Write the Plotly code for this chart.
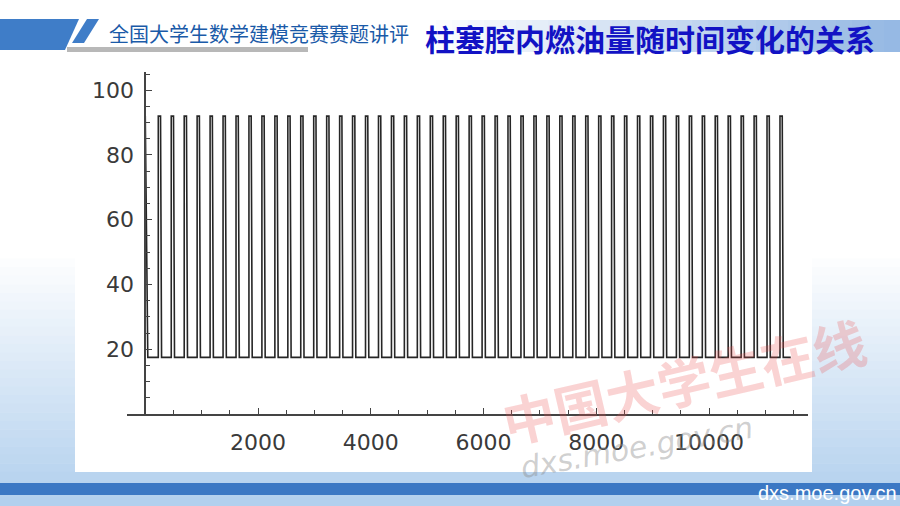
import plotly.graph_objects as go

# ---------------- data ----------------
rise_times = [231, 461, 691, 920, 1150, 1380, 1610, 1839, 2069, 2299,
              2529, 2758, 2988, 3218, 3448, 3677, 3907, 4137, 4367, 4596,
              4826, 5056, 5286, 5515, 5745, 5975, 6205, 6434, 6664, 6894,
              7124, 7353, 7583, 7813, 8043, 8272, 8502, 8732, 8962, 9191,
              9421, 9651, 9881, 10110, 10340, 10570, 10800, 11029, 11259]
peak_level = 92.0
base_level = 17.5
hold_top = 40       # time the level stays at the top before falling
fall_end = 58       # time after the rise at which the level is back at the base
start_points_t = [0, 30, 45]
start_points_v = [92.0, 30.0, 17.5]
end_time = 11450

x_tickvals = [2000, 4000, 6000, 8000, 10000]
x_ticktext = ["2000", "4000", "6000", "8000", "10000"]
y_tickvals = [20, 40, 60, 80, 100]
y_ticktext = ["20", "40", "60", "80", "100"]

header_text = "全国大学生数学建模竞赛赛题讲评"
title_text = "柱塞腔内燃油量随时间变化的关系"
footer_text = "dxs.moe.gov.cn"

# ---------------- build the polyline ----------------
t = list(start_points_t)
v = list(start_points_v)
for r in rise_times:
    t += [r, r, r + hold_top, r + fall_end]
    v += [base_level, peak_level, peak_level, base_level]
t.append(end_time)
v.append(base_level)

# ---------------- geometry ----------------
W, H = 900, 506
L, T, R, B = 127, 72, 92, 92
PW, PH = W - L - R, H - T - B


def px(x):
    return (x - L) / PW


def py(y):
    return (H - B - y) / PH


fig = go.Figure()
fig.add_trace(go.Scatter(x=t, y=v, mode="lines",
                         line=dict(color="#262626", width=1.6),
                         hoverinfo="skip", showlegend=False))

shapes = []
# bottom background gradient (white -> light blue)
n = 30
y0, y1 = 250, 506
for i in range(n):
    f = i / (n - 1)
    rr = int(255 - (255 - 178) * f)
    gg = int(255 - (255 - 208) * f)
    bb = int(255 - (255 - 238) * f)
    ya = y0 + (y1 - y0) * i / n
    yb = y0 + (y1 - y0) * (i + 1) / n + 0.5
    shapes.append(dict(type="rect", xref="paper", yref="paper",
                       x0=px(0), x1=px(W), y0=py(yb), y1=py(ya),
                       fillcolor=f"rgb({rr},{gg},{bb})", line=dict(width=0),
                       layer="below"))
# white chart panel
shapes.append(dict(type="rect", xref="paper", yref="paper",
                   x0=px(75), x1=px(812), y0=py(472), y1=py(62),
                   fillcolor="white", line=dict(width=0), layer="below"))
# footer blue bar
shapes.append(dict(type="rect", xref="paper", yref="paper",
                   x0=px(0), x1=px(W), y0=py(495), y1=py(483),
                   fillcolor="#3b78c4", line=dict(width=0), layer="below"))
# title bar gradient
n2 = 30
for i in range(n2):
    f = i / (n2 - 1)
    rr = int(255 - (255 - 150) * f)
    gg = int(255 - (255 - 185) * f)
    bb = int(255 - (255 - 228) * f)
    xa = 420 + 480 * i / n2
    xb = 420 + 480 * (i + 1) / n2 + 0.5
    shapes.append(dict(type="rect", xref="paper", yref="paper",
                       x0=px(xa), x1=px(xb), y0=py(52), y1=py(20),
                       fillcolor=f"rgb({rr},{gg},{bb})", line=dict(width=0),
                       layer="below"))


def path(pts):
    return "M " + " L ".join(f"{px(a):.5f},{py(b):.5f}" for a, b in pts) + " Z"


# header parallelograms
shapes.append(dict(type="path", xref="paper", yref="paper",
                   path=path([(0, 19), (79, 19), (65, 50), (0, 50)]),
                   fillcolor="#3f7dc8", line=dict(width=0), layer="below"))
shapes.append(dict(type="path", xref="paper", yref="paper",
                   path=path([(87, 19), (99, 19), (84, 43), (72, 43)]),
                   fillcolor="#3f7dc8", line=dict(width=0), layer="below"))
# gray underline
shapes.append(dict(type="rect", xref="paper", yref="paper",
                   x0=px(67), x1=px(308), y0=py(52), y1=py(47),
                   fillcolor="#b8b8b8", line=dict(width=0), layer="below"))

annotations = [
    dict(text=header_text, xref="paper", yref="paper", x=px(107), y=py(33),
         xanchor="left", yanchor="middle", showarrow=False,
         font=dict(family="Noto Sans CJK SC", size=20, color="#1a5aa8")),
    dict(text=title_text, xref="paper", yref="paper", x=px(423), y=py(38),
         xanchor="left", yanchor="middle", showarrow=False,
         font=dict(family="Noto Sans CJK SC", size=30, color="#1212c4",
                   weight="bold")),
    dict(text=footer_text, xref="paper", yref="paper", x=px(899), y=py(493),
         xanchor="right", yanchor="middle", showarrow=False,
         font=dict(family="Liberation Sans", size=20, color="white")),
    # watermarks
    dict(text="中国大学生在线", xref="paper", yref="paper", x=px(683), y=py(380),
         xanchor="center", yanchor="middle", showarrow=False, textangle=-13,
         font=dict(family="Noto Sans CJK SC", size=53, color="rgba(235,80,80,0.25)",
                   weight="bold")),
    dict(text="dxs.moe.gov.cn", xref="paper", yref="paper", x=px(636), y=py(447),
         xanchor="center", yanchor="middle", showarrow=False, textangle=-10,
         font=dict(family="DejaVu Sans", size=30, color="rgba(140,140,140,0.42)",
                   style="italic")),
]

axis_color = "#444444"
tick_font = dict(family="DejaVu Sans", size=22, color="#3a3a3a")

fig.update_layout(
    width=W, height=H,
    margin=dict(l=L, r=R, t=T, b=B, pad=0),
    paper_bgcolor="white", plot_bgcolor="rgba(0,0,0,0)",
    shapes=shapes, annotations=annotations, showlegend=False,
    xaxis=dict(range=[-324, 11756], showgrid=False, zeroline=False,
               showline=True, linecolor=axis_color, linewidth=1.5,
               tickmode="array", tickvals=x_tickvals, ticktext=x_ticktext,
               ticks="inside", ticklen=6, tickwidth=1.2, tickcolor=axis_color,
               tickfont=tick_font, ticklabelstandoff=8,
               minor=dict(dtick=500, tick0=0, ticks="inside", ticklen=4,
                          tickwidth=1, tickcolor=axis_color, showgrid=False)),
    yaxis=dict(range=[0, (H - B - T) / 3.238], showgrid=False, zeroline=False,
               anchor="free", position=(145.25 - L) / PW,
               showline=True, linecolor=axis_color, linewidth=1.5,
               tickmode="array", tickvals=y_tickvals, ticktext=y_ticktext,
               ticks="inside", ticklen=6, tickwidth=1.2, tickcolor=axis_color,
               tickfont=tick_font, ticklabelstandoff=6,
               minor=dict(dtick=5, tick0=0, ticks="inside", ticklen=4,
                          tickwidth=1, tickcolor=axis_color, showgrid=False)),
)

fig.write_html("out.html", config={"displayModeBar": False},
               post_script="document.body.style.margin='0';document.body.style.padding='0';")
